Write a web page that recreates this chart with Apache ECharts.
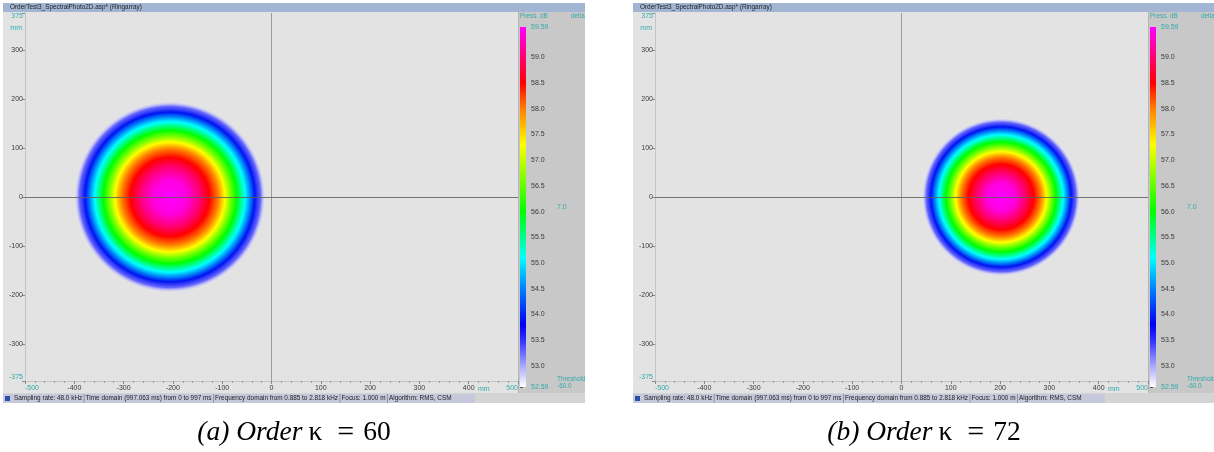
<!DOCTYPE html>
<html>
<head>
<meta charset="utf-8">
<script src="https://cdn.jsdelivr.net/npm/echarts@6/dist/echarts.min.js"></script>
<style>
html,body{margin:0;padding:0;background:#ffffff;}
#chart{width:1214px;height:452px;}
</style>
</head>
<body>
<div id="chart"></div>
<script>
// ---- content ----
const windowTitle = 'OrderTest3_SpectralPhoto2D.asp* (Ringarray)';
const statusParts = [
  'Sampling rate: 48.0 kHz',
  'Time domain (997.063 ms) from 0 to 997 ms',
  'Frequency domain from 0.885 to 2.818 kHz',
  'Focus: 1.000 m',
  'Algorithm: RMS, CSM'
];
const captionLetters = ['(a)', '(b)'];
const orders = [60, 72];

// axis tick labels (mm)
const xTickLabels = [-500, -400, -300, -200, -100, 0, 100, 200, 300, 400, 500];
const yTickLabels = [-375, -300, -200, -100, 0, 100, 200, 300, 375];

// colour scale (dB)
const levelMin = 52.59;
const levelMax = 59.59;
const levelTicks = [52.59, 53.0, 53.5, 54.0, 54.5, 55.0, 55.5, 56.0, 56.5, 57.0, 57.5, 58.0, 58.5, 59.0, 59.59];
const deltaValue = '7.0';
const thresholdValue = '-60.0';

// palette stops: level (dB) -> colour
const paletteLevels = [52.59, 53.0, 53.5, 53.8, 54.5, 55.1, 56.0, 57.3, 58.0, 58.5, 59.0, 59.59];
const paletteColors = ['#ffffff', '#a8a8ff', '#3030ff', '#0000f0', '#0080ff', '#00ffff', '#00ff00', '#ffff00', '#ff8000', '#ff0000', '#ff0070', '#ff00ff'];

// source maps: centre x, centre y, outer radius (mm)
const sourceA = [-206, 0, 196];
const sourceB = [202, 0, 162];

// radial level profile: fraction of outer radius -> level (dB)
const profileRadius = [0, 0.18, 0.30, 0.41, 0.50, 0.57, 0.63, 0.69, 0.78, 0.88, 0.94, 1.0];
const profileA = [59.59, 59.45, 59.05, 58.5, 58.0, 57.3, 56.6, 56.0, 55.1, 53.9, 53.3, 52.59];
const profileB = [59.59, 59.45, 59.0, 58.5, 58.0, 57.3, 56.6, 56.0, 55.1, 53.9, 53.3, 52.59];

// ---- helpers ----
function hexToRgb(h) {
  return [parseInt(h.slice(1, 3), 16), parseInt(h.slice(3, 5), 16), parseInt(h.slice(5, 7), 16)];
}
function paletteAt(level) {
  if (level <= paletteLevels[0]) return hexToRgb(paletteColors[0]);
  for (let i = 1; i < paletteLevels.length; i++) {
    if (level <= paletteLevels[i]) {
      const t = (level - paletteLevels[i - 1]) / (paletteLevels[i] - paletteLevels[i - 1]);
      const a = hexToRgb(paletteColors[i - 1]), b = hexToRgb(paletteColors[i]);
      return a.map((v, k) => Math.round(v + (b[k] - v) * t));
    }
  }
  return hexToRgb(paletteColors[paletteColors.length - 1]);
}
// low levels fade into the plot background
function mapColor(level) {
  const c = paletteAt(level);
  const alpha = Math.max(0, Math.min(1, (level - levelMin) / 0.75));
  return 'rgba(' + c[0] + ',' + c[1] + ',' + c[2] + ',' + alpha.toFixed(3) + ')';
}

const CYAN = '#33aaaa';
const DARK = '#3a3a3a';
const SANS = 'Liberation Sans';
const SMALL = '6.4px ' + SANS;
const LABEL = '7px ' + SANS;

const measureCtx = document.createElement('canvas').getContext('2d');
function measure(text, font) {
  measureCtx.font = font;
  return measureCtx.measureText(text).width;
}

const chart = echarts.init(document.getElementById('chart'), null, { renderer: 'canvas' });

const grids = [], xAxes = [], yAxes = [], series = [], graphics = [];

function addPanel(idx, dx, source, profile) {
  const gMap = grids.length;
  grids.push({ left: 25 + dx, top: 13, width: 493, height: 368 });
  const gBar = grids.length;
  grids.push({ left: 520 + dx, top: 27, width: 6, height: 360 });

  // window frame
  graphics.push(
    { type: 'rect', z: -10, shape: { x: 3 + dx, y: 12, width: 515, height: 381 }, style: { fill: '#e3e3e3' } },
    { type: 'rect', z: -10, shape: { x: 518 + dx, y: 12, width: 67, height: 381 }, style: { fill: '#c8c8c8' } },
    { type: 'line', z: -9, shape: { x1: 518.5 + dx, y1: 12, x2: 518.5 + dx, y2: 393 }, style: { stroke: '#b4b4b4', lineWidth: 1 } },
    { type: 'rect', z: -10, shape: { x: 3 + dx, y: 3, width: 582, height: 9 }, style: { fill: '#a2b6d4' } },
    { type: 'text', z: 5, x: 10 + dx, y: 7.5, style: { text: windowTitle, font: SMALL, fill: '#1e1e1e', verticalAlign: 'middle' } },
    { type: 'rect', z: -10, shape: { x: 3 + dx, y: 393, width: 582, height: 10 }, style: { fill: '#d4d4d4' } },
    { type: 'rect', z: -9, shape: { x: 3 + dx, y: 394, width: 472, height: 9 }, style: { fill: '#c6c9dc' } },
    { type: 'rect', z: -8, shape: { x: 5 + dx, y: 396, width: 5, height: 5 }, style: { fill: '#2b4fa8' } },
    { type: 'text', z: 5, x: 22 + dx, y: 28, style: { text: 'mm', font: LABEL, fill: CYAN, align: 'right', verticalAlign: 'middle' } },
    { type: 'text', z: 5, x: 478 + dx, y: 389, style: { text: 'mm', font: LABEL, fill: CYAN, align: 'left', verticalAlign: 'middle' } },
    { type: 'text', z: 5, x: 520 + dx, y: 16, style: { text: 'Press. dB', font: SMALL, fill: CYAN, verticalAlign: 'middle' } },
    { type: 'text', z: 5, x: 571 + dx, y: 16, style: { text: 'delta', font: SMALL, fill: CYAN, verticalAlign: 'middle' } },
    { type: 'text', z: 5, x: 557 + dx, y: 207, style: { text: deltaValue, font: LABEL, fill: CYAN, verticalAlign: 'middle' } },
    { type: 'text', z: 5, x: 557 + dx, y: 379.5, style: { text: 'Threshold', font: SMALL, fill: CYAN, verticalAlign: 'middle' } },
    { type: 'text', z: 5, x: 557 + dx, y: 386.5, style: { text: thresholdValue, font: SMALL, fill: CYAN, verticalAlign: 'middle' } }
  );
  // status bar text with separators
  let sx = 14 + dx;
  statusParts.forEach((s, i) => {
    graphics.push({ type: 'text', z: 5, x: sx, y: 398.5, style: { text: s, font: SMALL, fill: '#1e1e1e', verticalAlign: 'middle' } });
    sx += measure(s, SMALL) + 1.5;
    if (i < statusParts.length - 1) {
      graphics.push({ type: 'line', z: 5, shape: { x1: sx + 0.5, y1: 394, x2: sx + 0.5, y2: 403 }, style: { stroke: '#9296ac', lineWidth: 1 } });
      sx += 2;
    }
  });
  // caption
  graphics.push({
    type: 'text', z: 5, x: 294 + dx, y: 433,
    style: {
      text: '{i|' + captionLetters[idx] + ' Order}{k|\u03ba}{e|=}{n|' + orders[idx] + '}',
      align: 'center', verticalAlign: 'middle',
      rich: {
        i: { fontFamily: 'Liberation Serif', fontStyle: 'italic', fontSize: 27.5, fill: '#000' },
        k: { fontFamily: 'Liberation Serif', fontSize: 27.5, fill: '#000', padding: [0, 0, 0, 6] },
        e: { fontFamily: 'Liberation Serif', fontSize: 30, fill: '#000', padding: [0, 9, 0, 15] },
        n: { fontFamily: 'Liberation Serif', fontSize: 27.5, fill: '#000' }
      }
    }
  });

  const edgeRich = {
    c: { color: CYAN, fontSize: 7, fontFamily: SANS },
    d: { color: DARK, fontSize: 7, fontFamily: SANS }
  };

  xAxes.push({
    gridIndex: gMap, type: 'value', min: -500, max: 500, interval: 100,
    axisLine: { show: true, onZero: false, lineStyle: { color: '#c4c4c4', width: 1 } },
    axisTick: { show: true, length: 3, lineStyle: { color: '#8a8a8a' } },
    minorTick: { show: true, splitNumber: 5, length: 2, lineStyle: { color: '#9a9a9a' } },
    splitLine: { show: false },
    axisLabel: {
      margin: 4, alignMinLabel: 'left', alignMaxLabel: 'right',
      formatter: v => (Math.abs(v) === 500 ? '{c|' + v + '}' : '{d|' + v + '}'),
      rich: edgeRich,
      customValues: xTickLabels
    }
  });
  yAxes.push({
    gridIndex: gMap, type: 'value', min: -375, max: 375,
    axisLine: { show: true, onZero: false, lineStyle: { color: '#c4c4c4', width: 1 } },
    axisTick: { show: true, length: 3, lineStyle: { color: '#8a8a8a' }, customValues: yTickLabels },
    splitLine: { show: false },
    axisLabel: {
      margin: 2, verticalAlignMinLabel: 'bottom', verticalAlignMaxLabel: 'top',
      formatter: v => (Math.abs(v) === 375 ? '{c|' + v + '}' : '{d|' + v + '}'),
      rich: edgeRich,
      customValues: yTickLabels
    }
  });
  xAxes.push({ gridIndex: gBar, type: 'value', min: 0, max: 1, show: false });
  yAxes.push({
    gridIndex: gBar, type: 'value', min: levelMin, max: levelMax, position: 'right',
    axisLine: { show: false },
    axisTick: { show: true, length: 3, lineStyle: { color: '#555' }, customValues: levelTicks },
    splitLine: { show: false },
    axisLabel: {
      margin: 5,
      formatter: v => (v === levelMin || v === levelMax ? '{c|' + v.toFixed(2) + '}' : '{d|' + v.toFixed(1) + '}'),
      rich: edgeRich,
      customValues: levelTicks
    }
  });

  const xi = xAxes.length - 2, yi = yAxes.length - 2;

  // source map: radial level profile rendered as a gradient disc
  const stops = profileRadius.map((r, k) => ({ offset: r, color: mapColor(profile[k]) }));
  series.push({
    type: 'custom', xAxisIndex: xi, yAxisIndex: yi, clip: true, silent: true, animation: false,
    data: [source],
    renderItem: function (params, api) {
      const c = api.coord([api.value(0), api.value(1)]);
      const sz = api.size([api.value(2), api.value(2)]);
      const r = (sz[0] + sz[1]) / 2;
      return {
        type: 'circle',
        shape: { cx: c[0], cy: c[1], r: r },
        style: { fill: new echarts.graphic.RadialGradient(0.5, 0.5, 0.5, stops) }
      };
    },
    markLine: {
      silent: true, symbol: 'none', animation: false, label: { show: false },
      data: [
        { xAxis: 0, lineStyle: { color: '#9c9c9c', width: 1, type: 'solid' } },
        { yAxis: 0, lineStyle: { color: '#5f5f5f', width: 1, type: 'solid', opacity: 0.85 } }
      ]
    }
  });

  // colour bar
  const barStops = paletteLevels.map((l, k) => ({ offset: (l - levelMin) / (levelMax - levelMin), color: paletteColors[k] }));
  series.push({
    type: 'custom', xAxisIndex: xi + 1, yAxisIndex: yi + 1, silent: true, animation: false,
    data: [[0, levelMin, 1, levelMax]],
    renderItem: function (params, api) {
      const p0 = api.coord([api.value(0), api.value(1)]);
      const p1 = api.coord([api.value(2), api.value(3)]);
      return {
        type: 'rect',
        shape: { x: p0[0], y: p1[1], width: p1[0] - p0[0], height: p0[1] - p1[1] },
        style: { fill: new echarts.graphic.LinearGradient(0, 1, 0, 0, barStops) }
      };
    }
  });
}

addPanel(0, 0, sourceA, profileA);
addPanel(1, 630, sourceB, profileB);

chart.setOption({
  animation: false,
  backgroundColor: '#ffffff',
  grid: grids,
  xAxis: xAxes,
  yAxis: yAxes,
  series: series,
  graphic: graphics
});
</script>
</body>
</html>
